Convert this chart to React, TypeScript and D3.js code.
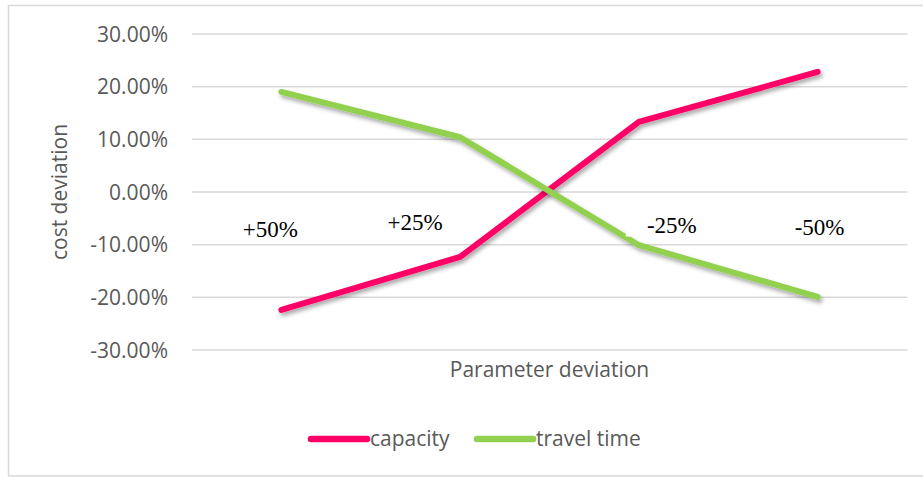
import React from "react";
import * as d3 from "d3";

// Parameter deviation categories and cost deviation per series
const categories = ["+50%", "+25%", "-25%", "-50%"];
const capacity = [-0.224, -0.123, 0.133, 0.228];
const travelTime = [0.19, 0.104, -0.101, -0.199];
const yTicks = [-0.3, -0.2, -0.1, 0, 0.1, 0.2, 0.3];
const seriesNames = ["capacity", "travel time"];

// Placement of the free text boxes naming each category (offset from the category centre)
const labelLayout = [
  { dx: -11, baseline: 237 },
  { dx: -45, baseline: 230 },
  { dx: 33, baseline: 232.5 },
  { dx: 2, baseline: 235 },
];

const W = 923;
const H = 477;
const COLORS = ["#FF0066", "#92D050"];
const SANS = "'Open Sans', sans-serif";
const TEXT_GRAY = "#595959";

const pct = d3.formatLocale({
  decimal: ".",
  thousands: ",",
  grouping: [3],
  currency: ["$", ""],
  minus: "-",
}).format(".2%");

export default function App() {
  const x = d3.scalePoint<string>().domain(categories).range([192, 907]).padding(0.5);
  const y = d3.scaleLinear().domain([-0.3, 0.3]).range([350, 34]);

  const line = d3
    .line<number>()
    .x((_, i) => x(categories[i]) as number)
    .y((d) => y(d));

  const series = [capacity, travelTime];

  return (
    <svg
      width={W}
      height={H}
      style={{ position: "absolute", left: 0, top: 0, background: "#fff" }}
    >
      <defs>
        <filter id="lineShadow" x="-10%" y="-20%" width="130%" height="150%">
          <feDropShadow dx="2" dy="3" stdDeviation="2" floodColor="#000" floodOpacity="0.35" />
        </filter>
      </defs>

      {/* chart area frame */}
      <rect x={8.5} y={5.5} width={930} height={470.5} fill="#fff" stroke="#d9d9d9" strokeWidth={1.5} />

      {/* horizontal gridlines and value labels */}
      {yTicks.map((t) => (
        <g key={t}>
          <line x1={192} x2={907.5} y1={y(t)} y2={y(t)} stroke="#d9d9d9" strokeWidth={1.5} />
          <text
            x={168}
            y={y(t)}
            dy="0.36em"
            textAnchor="end"
            fontFamily={SANS}
            fontSize={21}
            fill={TEXT_GRAY}
          >
            {pct(t)}
          </text>
        </g>
      ))}

      {/* series lines */}
      {series.map((s, i) => (
        <path
          key={seriesNames[i]}
          d={line(s) as string}
          fill="none"
          stroke={COLORS[i]}
          strokeWidth={6}
          strokeLinecap="round"
          strokeLinejoin="round"
          filter="url(#lineShadow)"
        />
      ))}

      {/* category text boxes */}
      {categories.map((c, i) => {
        const cx = (x(c) as number) + labelLayout[i].dx;
        const b = labelLayout[i].baseline;
        return (
          <g key={c}>
            <rect x={cx - 46} y={b - 26} width={92} height={30} fill="#fff" />
            <text
              x={cx}
              y={b}
              textAnchor="middle"
              fontFamily="'Liberation Serif', 'Times New Roman', serif"
              fontSize={23}
              fill="#000"
            >
              {c}
            </text>
          </g>
        );
      })}

      {/* axis titles */}
      <text
        transform="translate(67,192) rotate(-90)"
        textAnchor="middle"
        fontFamily={SANS}
        fontSize={21}
        fill={TEXT_GRAY}
      >
        cost deviation
      </text>
      <text x={549.5} y={376.5} textAnchor="middle" fontFamily={SANS} fontSize={21} fill={TEXT_GRAY}>
        Parameter deviation
      </text>

      {/* legend */}
      {seriesNames.map((name, i) => {
        const lx = i === 0 ? 311 : 477;
        return (
          <g key={name}>
            <line
              x1={lx}
              x2={lx + 56}
              y1={439}
              y2={439}
              stroke={COLORS[i]}
              strokeWidth={6.5}
              strokeLinecap="round"
            />
            <text x={lx + 59} y={446} fontFamily={SANS} fontSize={21} fill={TEXT_GRAY}>
              {name}
            </text>
          </g>
        );
      })}
    </svg>
  );
}
